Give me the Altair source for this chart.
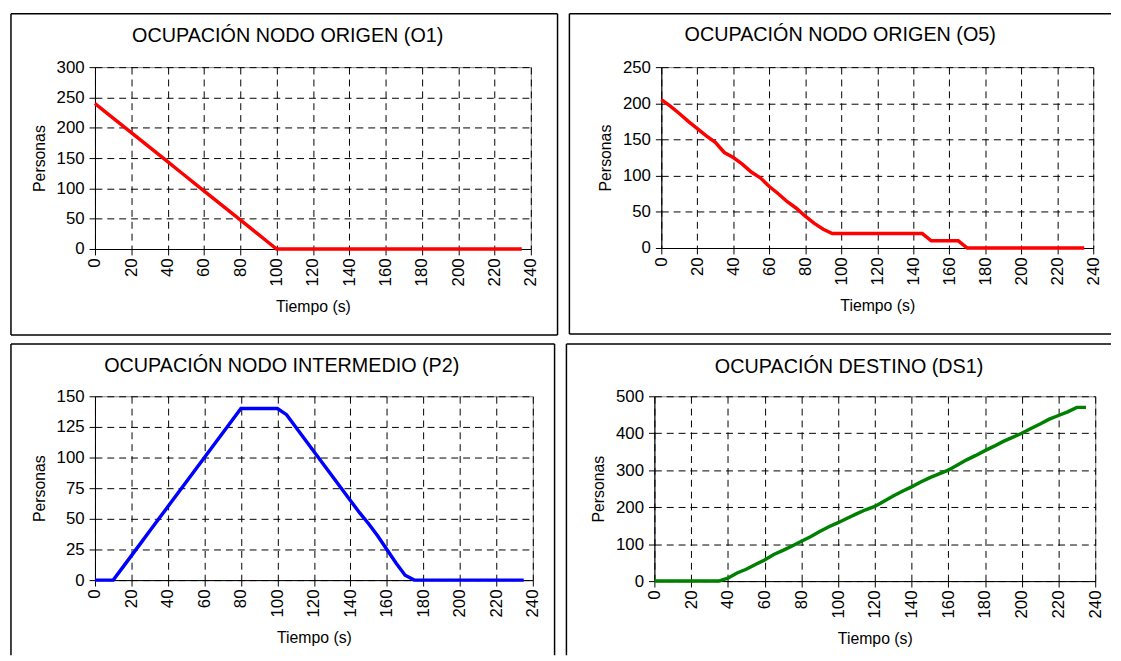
import altair as alt
import pandas as pd

# ---------------- data ----------------
tiempo = list(range(0, 240, 5))  # 0 .. 235 s

o1 = [240, 228, 216, 204, 192, 180, 168, 156, 144, 132, 120, 108, 96, 84, 72, 60,
      48, 36, 24, 12, 0] + [0] * 27

o5 = [205, 196, 186, 175, 165, 155, 146, 132, 125, 116, 105, 97, 85, 75, 64, 55,
      44, 34, 26, 20] + [20] * 10 + [10] * 4 + [0] * 14

p2 = [0, 0, 0, 10, 20, 30, 40, 50, 60, 70, 80, 90, 100, 110, 120, 130, 140,
      140, 140, 140, 140, 135, 125, 115, 105, 95, 85, 75, 65, 55, 46, 36, 25, 14,
      4, 0] + [0] * 12

ds1 = [0] * 8 + [8, 22, 32, 45, 57, 72, 83, 95, 108, 120, 134, 147, 158, 170, 182,
                 193, 202, 216, 230, 243, 255, 268, 280, 290, 300, 314, 328, 340,
                 353, 365, 378, 389, 400, 413, 425, 438, 448, 458, 470, 470]

x_ticks = list(range(0, 241, 20))
titles = ["OCUPACIÓN NODO ORIGEN (O1)", "OCUPACIÓN NODO ORIGEN (O5)",
          "OCUPACIÓN NODO INTERMEDIO (P2)", "OCUPACIÓN DESTINO (DS1)"]
y_tops = [300, 250, 150, 500]
y_steps = [50, 50, 25, 100]
colors = ["#FF0000", "#FF0000", "#0000FF", "#008000"]
x_title = "Tiempo (s)"
y_title = "Personas"

FONT = "Liberation Sans"
one = pd.DataFrame({"k": [0]})


def panel(values, color, ymax, ystep, title, w, h, box, sides, tcx, tby):
    L, T, R, B = box
    df = pd.DataFrame({"t": tiempo, "v": values})
    line = alt.Chart(df).mark_line(color=color, strokeWidth=3.5).encode(
        x=alt.X("t:Q", scale=alt.Scale(domain=[0, 240], nice=False, zero=False),
                axis=alt.Axis(values=x_ticks, title=x_title, labelAngle=270,
                              labelAlign="right", labelBaseline="middle", format="d")),
        y=alt.Y("v:Q", scale=alt.Scale(domain=[0, ymax], nice=False),
                axis=alt.Axis(values=list(range(0, ymax + 1, ystep)), title=y_title,
                              format="d")),
    )
    layers = [line]

    def seg(**kw):
        return alt.Chart(one).mark_rule(color="black", strokeWidth=1.5).encode(**kw)

    if "top" in sides:
        layers.append(seg(x=alt.value(L), x2=alt.value(R), y=alt.value(T)))
    if "bottom" in sides:
        layers.append(seg(x=alt.value(L), x2=alt.value(R), y=alt.value(B)))
    if "left" in sides:
        layers.append(seg(x=alt.value(L), y=alt.value(T), y2=alt.value(B)))
    if "right" in sides:
        layers.append(seg(x=alt.value(R), y=alt.value(T), y2=alt.value(B)))
    ttl = alt.Chart(one).mark_text(font=FONT, fontSize=20, color="black", align="center",
                                   baseline="alphabetic").encode(
        x=alt.value(tcx), y=alt.value(tby), text=alt.value(title))
    layers.append(ttl)
    return alt.layer(*layers).properties(width=w, height=h)


tl = panel(o1, colors[0], y_tops[0], y_steps[0], titles[0], 441, 184,
           (-85, -54, 468, 271), ("top", "bottom", "left", "right"), 195, -25)
tr = panel(o5, colors[1], y_tops[1], y_steps[1], titles[1], 437, 183,
           (-93, -54, 455, 270), ("top", "bottom", "left"), 181, -26)
bl = panel(p2, colors[2], y_tops[2], y_steps[2], titles[2], 443, 186,
           (-85, -53, 465, 262), ("top", "left", "right"), 189, -25)
br = panel(ds1, colors[3], y_tops[3], y_steps[3], titles[3], 446, 187,
           (-89, -53, 462, 262), ("top", "left"), 197, -24)

row1 = alt.hconcat(tl, tr, spacing=8)
row2 = alt.hconcat(bl, br, spacing=8)

chart = alt.vconcat(row1, row2, spacing=5).properties(
    padding={"left": 1, "top": 0, "right": 0, "bottom": 0},
    background="white",
).configure_axis(
    domainColor="black", domainWidth=1, tickColor="black", tickSize=6, tickWidth=1,
    labelFont=FONT, labelFontSize=17, labelColor="black", labelPadding=5,
    titleFont=FONT, titleFontSize=16, titleFontWeight="normal", titleColor="black",
    gridColor="black", gridDash=[7, 5], gridWidth=1, gridOpacity=1,
).configure_axisX(titlePadding=13, labelPadding=3).configure_axisY(titlePadding=9).configure_view(
    stroke="#808080", strokeWidth=1
)

chart.save("out.html", embed_options={"renderer": "svg", "actions": False})
